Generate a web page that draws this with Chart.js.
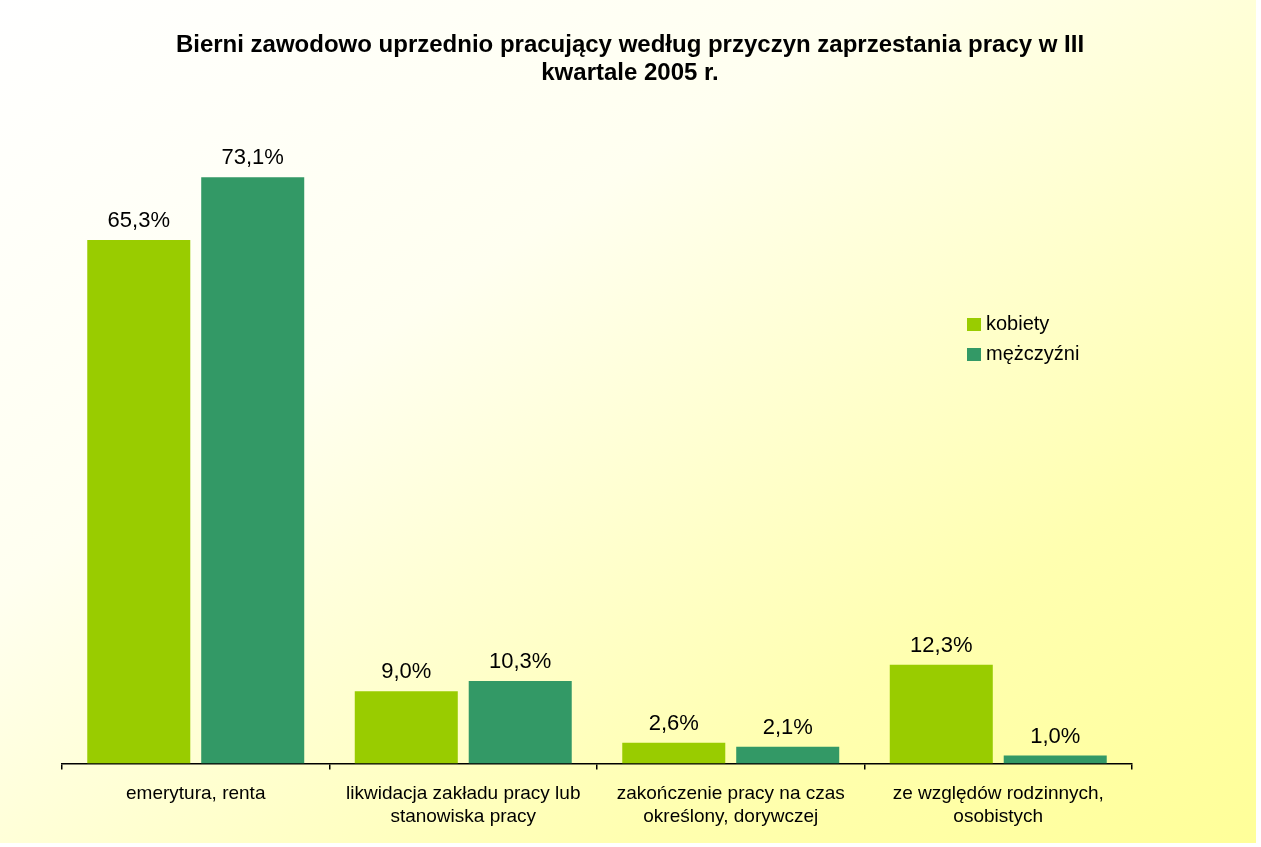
<!DOCTYPE html>
<html>
<head>
<meta charset="utf-8">
<script src="https://cdn.jsdelivr.net/npm/chart.js@4"></script>
<style>
    body { margin: 0; background: #ffffff; }
    #wrap {
        position: absolute; left: 0; top: 0; width: 1256px; height: 843px;
        background: linear-gradient(to bottom right, #ffffff 0%, #fffff0 35%, #ffffb0 75%, #ffff99 100%);
    }
</style>
</head>
<body>
<div id="wrap"><canvas id="reasonsChart" width="1256" height="843"></canvas></div>
<script>
// values (percent)
const categories = [
    ['emerytura, renta'],
    ['likwidacja zakładu pracy lub', 'stanowiska pracy'],
    ['zakończenie pracy na czas', 'określony, dorywczej'],
    ['ze względów rodzinnych,', 'osobistych']
];
const seriesNames = ['kobiety', 'mężczyźni'];
const kobiety = [65.3, 9.0, 2.6, 12.3];
const mezczyzni = [73.1, 10.3, 2.1, 1.0];
const colors = ['#99cc00', '#339966'];
const titleLines = ['Bierni zawodowo uprzednio pracujący według przyczyn zaprzestania pracy w III', 'kwartale 2005 r.'];

const font = 'Liberation Sans, Arial, sans-serif';

// title centred on the whole picture (not only the plot)
const pageTitle = {
    id: 'pageTitle',
    afterDraw(chart) {
        const ctx = chart.ctx;
        ctx.save();
        ctx.font = 'bold 24px ' + font;
        ctx.fillStyle = '#000';
        ctx.textAlign = 'center';
        ctx.textBaseline = 'middle';
        titleLines.forEach((line, i) => ctx.fillText(line, chart.width / 2 + 2, 45 + i * 28));
        ctx.restore();
    }
};

// value labels above each bar
const barLabels = {
    id: 'barLabels',
    afterDatasetsDraw(chart) {
        const ctx = chart.ctx;
        ctx.save();
        ctx.font = '22px ' + font;
        ctx.fillStyle = '#000';
        ctx.textAlign = 'center';
        ctx.textBaseline = 'bottom';
        chart.data.datasets.forEach((ds, i) => {
            chart.getDatasetMeta(i).data.forEach((bar, j) => {
                let txt = ds.data[j].toFixed(1).replace('.', ',') + '%';
                ctx.fillText(txt, bar.x, bar.y - 8);
            });
        });
        ctx.restore();
    }
};

// legend box sitting inside the plot, right side
const sideLegend = {
    id: 'sideLegend',
    afterDraw(chart) {
        const ctx = chart.ctx;
        ctx.save();
        ctx.font = '20px ' + font;
        ctx.textBaseline = 'middle';
        chart.data.datasets.forEach((ds, i) => {
            let y = 324 + i * 30;
            ctx.fillStyle = ds.backgroundColor;
            ctx.fillRect(967, y - 6, 14, 13);
            ctx.fillStyle = '#000';
            ctx.fillText(ds.label, 986, y);
        });
        ctx.restore();
    }
};

let reasonsCtx = document.getElementById('reasonsChart').getContext('2d');
let reasonsChart = new Chart(reasonsCtx, {
    type: 'bar',
    data: {
        labels: categories,
        datasets: [
            { label: seriesNames[0], data: kobiety, backgroundColor: colors[0] },
            { label: seriesNames[1], data: mezczyzni, backgroundColor: colors[1] }
        ]
    },
    options: {
        responsive: false,
        animation: false,
        categoryPercentage: 0.852,
        barPercentage: 0.904,
        layout: { padding: { left: 62, right: 124, top: 122, bottom: 2 } },
        plugins: {
            legend: { display: false },
            tooltip: { enabled: false },
            title: { display: false }
        },
        scales: {
            x: {
                grid: { display: true, drawOnChartArea: false, drawTicks: true, tickLength: 6, color: '#000', lineWidth: 1.5, offset: true },
                border: { display: true, color: '#000', width: 1.5 },
                ticks: {
                    color: '#000', font: { family: font, size: 19, lineHeight: 1.25 }, padding: 12,
                    maxRotation: 0, autoSkip: false
                }
            },
            y: {
                display: false,
                min: 0,
                max: 80
            }
        }
    },
    plugins: [barLabels, sideLegend, pageTitle]
});
</script>
</body>
</html>
